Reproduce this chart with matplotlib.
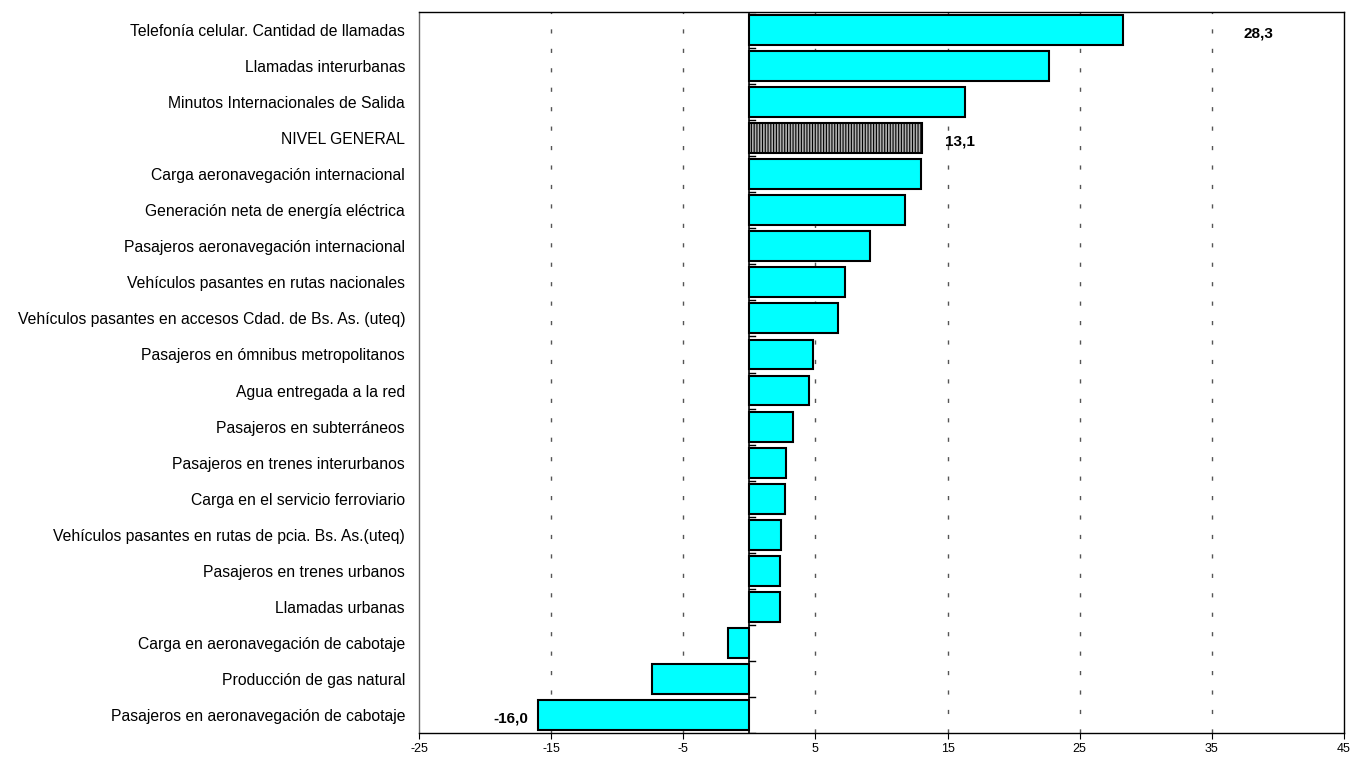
import numpy as np
import matplotlib.pyplot as plt

plt.rcParams['font.family'] = ['Liberation Sans', 'DejaVu Sans']
plt.rcParams['hatch.linewidth'] = 0.8

categorias = ['Telefonía celular. Cantidad de llamadas',
              'Llamadas interurbanas',
              'Minutos Internacionales de Salida',
              'NIVEL GENERAL',
              'Carga aeronavegación internacional',
              'Generación neta de energía eléctrica',
              'Pasajeros aeronavegación internacional',
              'Vehículos pasantes en rutas nacionales',
              'Vehículos pasantes en accesos Cdad. de Bs. As. (uteq)',
              'Pasajeros en ómnibus metropolitanos',
              'Agua entregada a la red',
              'Pasajeros en subterráneos',
              'Pasajeros en trenes interurbanos',
              'Carga en el servicio ferroviario',
              'Vehículos pasantes en rutas de pcia. Bs. As.(uteq)',
              'Pasajeros en trenes urbanos',
              'Llamadas urbanas',
              'Carga en aeronavegación de cabotaje',
              'Producción de gas natural',
              'Pasajeros en aeronavegación de cabotaje']
valores = [28.3, 22.7, 16.3, 13.1, 13.0, 11.8, 9.1, 7.2, 6.7, 4.8, 4.5,
           3.3, 2.8, 2.7, 2.4, 2.3, 2.3, -1.6, -7.4, -16.0]
xticks = [-25, -15, -5, 5, 15, 25, 35, 45]

# etiquetas destacadas: (indice, texto, x)
etiquetas = [(0, '28,3', 37.4), (3, '13,1', 14.8), (19, '-16,0', -16.7)]

fig = plt.figure(figsize=(13.54, 7.6), dpi=100)
ax = fig.add_axes([419/1354, 1-733/760, 925/1354, 721/760])

y = np.arange(len(categorias))
colores = ['#b0b0b0' if c == 'NIVEL GENERAL' else '#00FFFF' for c in categorias]
barras = ax.barh(y, valores, height=0.83, color=colores, edgecolor='black', linewidth=1.5, zorder=3)
barras[3].set_hatch('||||||')

ax.set_xlim(-25, 45)
ax.set_ylim(len(categorias) - 0.5, -0.5)
ax.set_xticks(xticks)
ax.set_xticklabels([str(t) for t in xticks], fontsize=9)
ax.set_yticks(y)
ax.set_yticklabels(categorias, fontsize=11.3)
ax.tick_params(axis='y', length=0, pad=10)
ax.tick_params(axis='x', length=4, direction='out')

for t in xticks[1:-1]:
    ax.axvline(t, color='#555555', linestyle=(0, (3, 11)), linewidth=1, zorder=1)

# eje en cero con marcas entre categorias
ax.axvline(0, color='black', linewidth=1.2, zorder=4)
for b in np.arange(-0.5, len(categorias) + 0.5, 1):
    ax.plot([0, 0.4], [b, b], color='black', linewidth=1, zorder=4)

for i, txt, xpos in etiquetas:
    ha = 'right' if xpos < 0 else 'left'
    ax.text(xpos, i + 0.1, txt, ha=ha, va='center', fontsize=11, fontweight='bold')

for s in ax.spines.values():
    s.set_color('black')
    s.set_linewidth(1)
ax.spines['left'].set_color('#666666')

fig.savefig('out.png', dpi=100)
